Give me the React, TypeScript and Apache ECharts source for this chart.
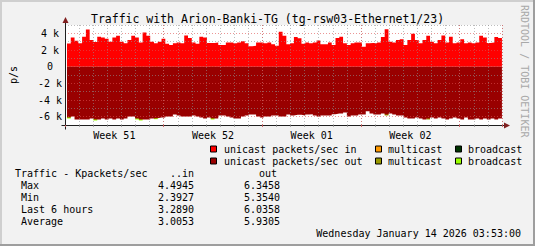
import React, { useEffect, useRef } from 'react';
import * as echarts from 'echarts';

const titleText = 'Traffic with Arion-Banki-TG (tg-rsw03-Ethernet1/23)';
const yAxisName = 'p/s';
const watermark = 'RRDTOOL / TOBI OETIKER';
const weekLabels = ['Week 51', 'Week 52', 'Week 01', 'Week 02'];
const weekLabelDays = [3.5, 10.5, 17.5, 24.5];
const startDay = 0.14;
const stepDays = 0.2683;

// Kpackets/sec per 6-hour sample
const unicastIn = [
  2.79, 3.5, 3.1, 2.8, 3.6, 4.45, 3.2, 2.95, 3.6, 3.5,
  3.35, 3.0, 3.5, 3.7, 3.0, 2.8, 3.2, 3.7, 3.5, 2.9,
  4.1, 3.7, 3.0, 2.8, 3.0, 3.35, 2.75, 2.6, 2.8, 2.9,
  2.8, 3.75, 3.45, 2.9, 2.75, 3.6, 3.5, 2.85, 2.85, 2.9,
  2.6, 2.6, 2.9, 2.9, 2.8, 2.9, 3.05, 2.8, 2.45, 2.5,
  2.9, 2.9, 2.8, 2.9,
  2.7, 2.5, 4.2, 3.7, 2.7, 2.8, 3.55, 3.4, 2.75, 2.9,
  2.8, 2.9, 3.15, 2.7, 2.7, 2.9, 2.6, 3.45, 3.6, 2.8,
  2.6, 2.8, 2.9, 2.9, 2.39, 2.8, 2.85, 2.8, 2.9, 3.55,
  4.49, 3.0, 2.9, 3.2, 3.3, 2.6, 3.2, 3.95, 3.2, 2.8,
  3.2, 3.7, 3.0, 2.8, 3.2, 3.75, 2.9, 3.6, 2.8, 2.9,
  3.3, 2.8, 2.9, 2.8, 2.9, 3.7, 3.5, 2.85, 2.9, 3.55,
  3.45,
];
const unicastOut = [
  6.10, 5.98, 6.34, 6.34, 6.34, 6.35, 6.22, 6.34, 6.34, 6.22,
  6.34, 6.22, 6.34, 6.22, 6.34, 6.22, 5.98, 5.98, 6.22, 6.34,
  6.34, 6.34, 6.22, 6.18, 6.10, 6.10, 5.98, 5.98, 5.74, 5.86,
  5.98, 5.98, 5.98, 5.86, 5.98, 6.10, 6.22, 6.10, 6.22, 6.22,
  5.86, 5.86, 5.98, 6.10, 6.22, 6.22, 5.98, 5.86, 5.74, 5.74,
  5.98, 6.10, 5.98, 5.98,
  5.86, 5.86, 5.98, 5.98, 5.74, 5.86, 5.78, 5.78, 5.86, 5.74,
  5.70, 5.86, 5.98, 5.86, 5.86, 5.86, 5.70, 5.62, 5.62, 5.50,
  5.98, 5.86, 5.86, 5.74, 5.74, 5.36, 5.62, 5.74, 5.74, 5.62,
  5.74, 5.62, 5.74, 5.86, 5.86, 6.10, 6.22, 6.22, 6.10, 6.22,
  6.34, 6.22, 6.10, 6.22, 6.10, 6.22, 6.34, 6.22, 6.10, 6.22,
  6.34, 6.10, 6.34, 6.34, 6.22, 6.34, 6.22, 6.34, 6.22, 6.34,
  6.22,
];
// sparse [sampleIndex, value] lists
const multicastOutPoints = [[84, 0.12], [95, 0.12]];
const broadcastOutPoints = [[0, 0.12], [7, 0.12], [18, 0.12], [19, 0.12], [23, 0.12], [38, 0.12]];

const legendRows = [
  [
    { color: '#FF0000', label: 'unicast packets/sec in' },
    { color: '#FF9900', label: 'multicast' },
    { color: '#003300', label: 'broadcast' },
  ],
  [
    { color: '#990000', label: 'unicast packets/sec out' },
    { color: '#999900', label: 'multicast' },
    { color: '#99FF00', label: 'broadcast' },
  ],
];
const statTitle = 'Traffic - Kpackets/sec';
const statHeaders = ['..in', 'out'];
const statLabels = ['Max', 'Min', 'Last 6 hours', 'Average'];
const statIn = ['4.4945', '2.3927', '3.2890', '3.0053'];
const statOut = ['6.3458', '5.3540', '6.0358', '5.9305'];
const dateText = 'Wednesday January 14 2026 03:53:00';

const FONT = '"DejaVu Sans Mono", monospace';
const AXIS_COLOR = '#1F1F1F';
const ARROW_COLOR = '#801F1F';

function toSteps(vals: number[], sign: number) {
  const pts = vals.map((v, i) => [startDay + i * stepDays, sign * v]);
  pts.push([startDay + vals.length * stepDays, sign * vals[vals.length - 1]]);
  return pts;
}
function extraBars(points: number[][], color: string) {
  return points.map(([i, v]) => ({
    value: [startDay + (i + 0.5) * stepDays, -(unicastOut[i] + v)],
    itemStyle: { color },
  }));
}

function text(x: number, y: number, t: string, align = 'left', size = 10, fill = '#000') {
  return {
    type: 'text', x, y, silent: true,
    style: { text: t, fill, fontSize: size, fontFamily: FONT, textAlign: align, textVerticalAlign: 'middle' },
  };
}

export default function App() {
  const ref = useRef<HTMLDivElement>(null);
  useEffect(() => {
    if (!ref.current) return;
    const chart = echarts.init(ref.current, undefined, { renderer: 'svg' });

    const areaSeries = (name: string, data: any[], color: string) => ({
      name, type: 'line', step: 'end',
      data, showSymbol: false, symbol: 'none',
      lineStyle: { width: 0, color }, itemStyle: { color },
      areaStyle: { color, opacity: 1, origin: 0 }, z: -2, silent: true,
    });
    const dayPx = 438 / 31;

    const option: any = {
      animation: false,
      backgroundColor: '#F2F2F2',
      title: {
        text: titleText, left: 'center', top: 8,
        textStyle: { fontFamily: FONT, fontSize: 11.5, fontWeight: 'normal', color: '#000' },
      },
      grid: { left: 64, top: 25, width: 438, height: 100, show: true, backgroundColor: '#FFFFFF', borderWidth: 0, z: -5 },
      xAxis: [
        {
          type: 'value', min: 0, max: 31, interval: 1,
          axisLine: { show: false, onZero: false },
          axisTick: { show: true, length: 2, lineStyle: { color: 'rgba(143,143,143,0.75)' } },
          axisLabel: { show: false },
          splitLine: { show: true, lineStyle: { color: 'rgba(143,143,143,0.6)', type: [1, 2], width: 1 } },
        },
        {
          type: 'value', min: 0, max: 31, interval: 7, position: 'bottom',
          axisLine: { show: false, onZero: false },
          axisTick: { show: true, length: 2, lineStyle: { color: 'rgba(222,79,79,0.7)' } },
          axisLabel: {
            show: true, customValues: weekLabelDays, margin: 5,
            fontFamily: FONT, fontSize: 10, color: '#000',
            formatter: (v: number) => weekLabels[Math.floor(v / 7)] ?? '',
          },
          splitLine: { show: true, lineStyle: { color: 'rgba(222,79,79,0.6)', type: [1, 2], width: 1 } },
        },
      ],
      yAxis: [
        {
          type: 'value', min: -7, max: 5, interval: 1,
          name: yAxisName, nameLocation: 'middle', nameRotate: 90, nameGap: 47,
          nameTextStyle: { fontFamily: FONT, fontSize: 10, color: '#000' },
          axisLine: { show: false, onZero: false },
          axisTick: { show: false },
          axisLabel: {
            show: true, align: 'center', margin: 15, fontFamily: FONT, fontSize: 10, color: '#000',
            formatter: (v: number) => (Math.round(v) % 2 !== 0 ? '' : v === 0 ? '0' : `${v} k`),
          },
          splitLine: {
            show: true,
            lineStyle: { color: ['rgba(143,143,143,0.6)', 'rgba(222,79,79,0.6)'], type: [1, 2], width: 1 },
          },
        },
      ],
      series: [
        areaSeries('unicast packets/sec in', toSteps(unicastIn, 1), '#FF0000'),
        {
          name: 'multicast / broadcast out', type: 'bar', silent: true, z: -3,
          barWidth: stepDays * dayPx,
          data: [...extraBars(multicastOutPoints, '#999900'), ...extraBars(broadcastOutPoints, '#99FF00')],
        },
        areaSeries('unicast packets/sec out', toSteps(unicastOut, -1), '#990000'),
      ],
    };
    chart.setOption(option);

    const [xl, yb] = chart.convertToPixel({ gridIndex: 0 }, [0, -7]) as number[];
    const [xr, yt] = chart.convertToPixel({ gridIndex: 0 }, [31, 5]) as number[];
    const ax = Math.round(xl) + 0.5;
    const ay = Math.round(yb) + 0.5;
    const graphics: any[] = [];
    graphics.push({ type: 'rect', shape: { x: 0, y: 0, width: 535, height: 2 }, style: { fill: '#CFCFCF' }, silent: true });
    graphics.push({ type: 'rect', shape: { x: 0, y: 0, width: 2, height: 246 }, style: { fill: '#CFCFCF' }, silent: true });
    graphics.push({ type: 'rect', shape: { x: 533, y: 0, width: 2, height: 246 }, style: { fill: '#9E9E9E' }, silent: true });
    graphics.push({ type: 'rect', shape: { x: 0, y: 244, width: 535, height: 2 }, style: { fill: '#9E9E9E' }, silent: true });
    graphics.push({ type: 'line', silent: true, shape: { x1: ax - 4, y1: ay, x2: xr + 4, y2: ay }, style: { stroke: AXIS_COLOR, lineWidth: 1 } });
    graphics.push({ type: 'line', silent: true, shape: { x1: ax, y1: ay + 4, x2: ax, y2: yt - 4 }, style: { stroke: AXIS_COLOR, lineWidth: 1 } });
    graphics.push({ type: 'polygon', silent: true, shape: { points: [[xr + 2, ay - 3], [xr + 2, ay + 3], [xr + 8, ay]] }, style: { fill: ARROW_COLOR } });
    graphics.push({ type: 'polygon', silent: true, shape: { points: [[ax - 3, yt - 2], [ax + 3, yt - 2], [ax, yt - 8]] }, style: { fill: ARROW_COLOR } });
    graphics.push({
      type: 'text', x: 524, y: 5, rotation: -Math.PI / 2, silent: true,
      style: { text: watermark, fill: '#A8A8A8', fontSize: 10, fontFamily: FONT, textAlign: 'left', textVerticalAlign: 'middle' },
    });
    const colX = [[210, 224], [375, 388], [455, 468]];
    const rowY = [149.5, 161.5];
    legendRows.forEach((row, r) => {
      row.forEach((item, c) => {
        graphics.push({
          type: 'rect', silent: true,
          shape: { x: colX[c][0] + 0.5, y: rowY[r] - 3.5, width: 6, height: 6 },
          style: { fill: item.color, stroke: '#000', lineWidth: 1 },
        });
        graphics.push(text(colX[c][1], rowY[r], item.label));
      });
    });
    graphics.push(text(15, 173.5, statTitle));
    graphics.push(text(194, 173.5, statHeaders[0], 'right'));
    graphics.push(text(277, 173.5, statHeaders[1], 'right'));
    statLabels.forEach((lab, i) => {
      const y = 185.5 + i * 12;
      graphics.push(text(21, y, lab));
      graphics.push(text(194, y, statIn[i], 'right'));
      graphics.push(text(280, y, statOut[i], 'right'));
    });
    graphics.push(text(521, 233, dateText, 'right'));
    chart.setOption({ graphic: graphics });

    return () => chart.dispose();
  }, []);
  return <div ref={ref} style={{ position: 'fixed', left: 0, top: 0, width: 535, height: 246 }} />;
}
